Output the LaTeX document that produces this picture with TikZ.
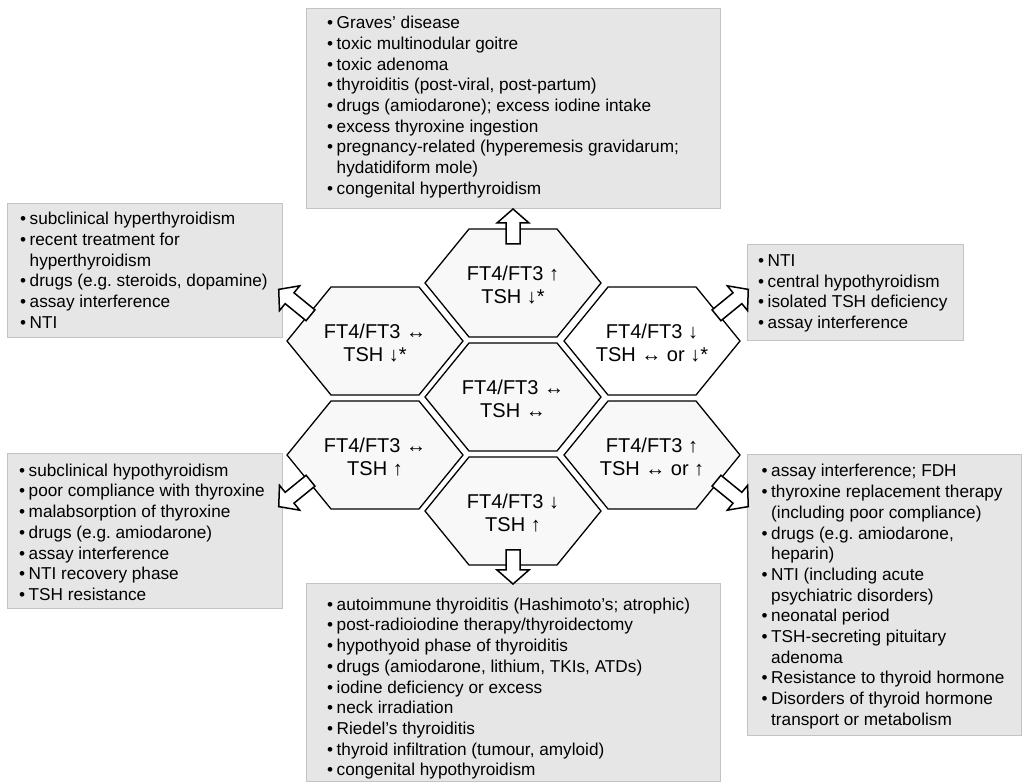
\documentclass[tikz,border=0pt]{standalone}
\usepackage{fontspec}
\setmainfont{Liberation Sans}
\usetikzlibrary{calc}
\definecolor{boxfill}{RGB}{230,230,231}
\definecolor{boxline}{RGB}{195,195,195}
\definecolor{hexfill}{RGB}{248,248,248}
\newcommand\lbul{\makebox[9.5pt][l]{•}}
\newcommand\lind{\hspace*{9.5pt}}
\tikzset{
  hexst/.style={draw=black, line width=1.3pt, fill=hexfill, line join=miter},
  boxst/.style={draw=boxline, line width=0.8pt, fill=boxfill, inner sep=0, outer sep=0, anchor=north west},
  barrow/.style={draw=black, line width=1.5pt, fill=white, line join=miter},
  hextext/.style={font=\fontsize{20}{22.5}\selectfont, align=center, inner sep=0},
  listtext/.style={font=\fontsize{17.2}{20.7}\selectfont, align=left, inner sep=0, anchor=north west},
}
\newcommand\hexat[2]{\draw[hexst,#2] (#1) ++(-88,0) -- ++(44,54) -- ++(88,0) -- ++(44,-54) -- ++(-44,-54) -- ++(-88,0) -- cycle;}
\newcommand\blockarrow[3]{%
  \begin{scope}[shift={(#1)}, rotate=#2]
    \draw[barrow] (0,7) -- ({#3-14},7) -- ({#3-14},16) -- (#3,0) -- ({#3-14},-16) -- ({#3-14},-7) -- (0,-7) -- cycle;
  \end{scope}}
\begin{document}
\begin{tikzpicture}[x=1pt,y=1pt]
\useasboundingbox (0,0) rectangle (1022,782);
% list boxes
\node[boxst, minimum width=414, minimum height=200] (bT) at (306,774) {};
\node[boxst, minimum width=275, minimum height=134] (bUL) at (7,579) {};
\node[boxst, minimum width=216, minimum height=96] (bUR) at (747,538) {};
\node[boxst, minimum width=275, minimum height=155] (bLL) at (7,329) {};
\node[boxst, minimum width=274, minimum height=281] (bLR) at (747,328) {};
\node[boxst, minimum width=414, minimum height=198] (bB) at (306,199) {};
% list texts
\node[listtext] (tT) at (327,765.9) {\lbul Graves’ disease\\ \lbul toxic multinodular goitre\\ \lbul toxic adenoma\\ \lbul thyroiditis (post-viral, post-partum)\\ \lbul drugs (amiodarone); excess iodine intake\\ \lbul excess thyroxine ingestion\\ \lbul pregnancy-related (hyperemesis gravidarum;\\ \lind hydatidiform mole)\\ \lbul congenital hyperthyroidism};
\node[listtext] (tUL) at (20,569.9) {\lbul subclinical hyperthyroidism\\ \lbul recent treatment for\\ \lind hyperthyroidism\\ \lbul drugs (e.g.\ steroids, dopamine)\\ \lbul assay interference\\ \lbul NTI};
\node[listtext] (tUR) at (758,527.7) {\lbul NTI\\ \lbul central hypothyroidism\\ \lbul isolated TSH deficiency\\ \lbul assay interference};
\node[listtext] (tLL) at (19,318.4) {\lbul subclinical hypothyroidism\\ \lbul poor compliance with thyroxine\\ \lbul malabsorption of thyroxine\\ \lbul drugs (e.g.\ amiodarone)\\ \lbul assay interference\\ \lbul NTI recovery phase\\ \lbul TSH resistance};
\node[listtext] (tLR) at (761.5,317.7) {\lbul assay interference; FDH\\ \lbul thyroxine replacement therapy\\ \lind (including poor compliance)\\ \lbul drugs (e.g.\ amiodarone,\\ \lind heparin)\\ \lbul NTI (including acute\\ \lind psychiatric disorders)\\ \lbul neonatal period\\ \lbul TSH-secreting pituitary\\ \lind adenoma\\ \lbul Resistance to thyroid hormone\\ \lbul Disorders of thyroid hormone\\ \lind transport or metabolism};
\node[listtext] (tB) at (327,184.4) {\lbul autoimmune thyroiditis (Hashimoto’s; atrophic)\\ \lbul post-radioiodine therapy/thyroidectomy\\ \lbul hypothyoid phase of thyroiditis\\ \lbul drugs (amiodarone, lithium, TKIs, ATDs)\\ \lbul iodine deficiency or excess\\ \lbul neck irradiation\\ \lbul Riedel’s thyroiditis\\ \lbul thyroid infiltration (tumour, amyloid)\\ \lbul congenital hypothyroidism};
% hexagon centres
\coordinate (T) at (513,499);
\coordinate (C) at (513,385);
\coordinate (B) at (513,271);
\coordinate (UL) at (375,441);
\coordinate (LL) at (375,327);
\coordinate (UR) at (652,441);
\coordinate (LR) at (652,327);
\hexat{T}{}
\hexat{C}{}
\hexat{B}{}
\hexat{UL}{}
\hexat{LL}{}
\hexat{UR}{fill=white}
\hexat{LR}{}
\node[hextext] (hT) at ($(T)+(0,-2)$) {FT4/FT3 ↑\\TSH ↓*};
\node[hextext] (hC) at ($(C)+(0,-2)$) {FT4/FT3 ↔\\TSH ↔};
\node[hextext] (hB) at ($(B)+(0,-2)$) {FT4/FT3 ↓\\TSH ↑};
\node[hextext] (hUL) at ($(UL)+(0,-2)$) {FT4/FT3 ↔\\TSH ↓*};
\node[hextext] (hLL) at ($(LL)+(0,-2)$) {FT4/FT3 ↔\\TSH ↑};
\node[hextext] (hUR) at ($(UR)+(0,-2)$) {FT4/FT3 ↓\\TSH ↔ or ↓*};
\node[hextext] (hLR) at ($(LR)+(0,-2)$) {FT4/FT3 ↑\\TSH ↔ or ↑};
% arrow starts
\coordinate (aT) at ($(T)+(0,39)$);
\coordinate (aB) at ($(B)+(0,-39)$);
\coordinate (aUL) at ($(UL)+(-64.5,25.7)$);
\coordinate (aUR) at ($(UR)+(64.5,25.7)$);
\coordinate (aLL) at ($(LL)+(-64.5,-25.7)$);
\coordinate (aLR) at ($(LR)+(64.5,-25.7)$);
\blockarrow{aT}{90}{35}
\blockarrow{aB}{-90}{34}
\blockarrow{aUL}{140.8}{41}
\blockarrow{aUR}{39.2}{41}
\blockarrow{aLL}{-140.8}{41}
\blockarrow{aLR}{-39.2}{41}
\end{tikzpicture}
\end{document}
